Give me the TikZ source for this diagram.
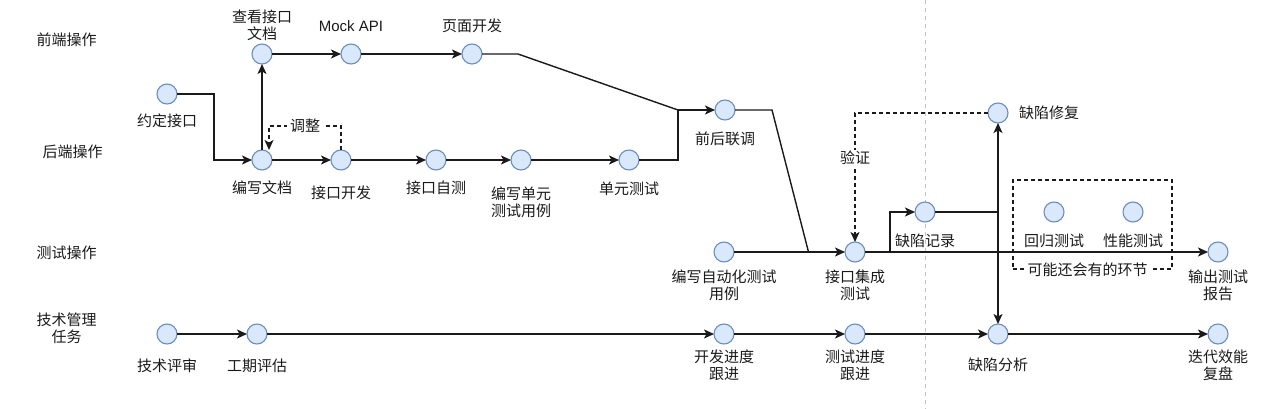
\documentclass[tikz,border=0pt]{standalone}
\usepackage{fontspec}
\setmainfont{Noto Sans CJK SC}
\newfontfamily\latinfont{Liberation Sans}
\usepackage{xcolor}
\usetikzlibrary{positioning}
\usetikzlibrary{arrows.meta}
\definecolor{evtfill}{HTML}{DAE8FC}
\definecolor{evtline}{HTML}{6C8EBF}
\definecolor{inkc}{HTML}{1A1A1A}
\definecolor{divc}{HTML}{C4C4C4}
\tikzstyle{evt}=[circle, minimum size=20pt, inner sep=0pt, outer sep=0pt, fill=evtfill, draw=evtline, line width=1.1pt]
\tikzstyle{txt}=[inner sep=0pt, text=inkc]
\tikzstyle{note}=[fill=white, inner xsep=3pt, inner ysep=1pt]
\tikzstyle{wire}=[draw=inkc, line width=1.4pt]
\tikzstyle{link}=[-{Stealth[length=10pt,width=9pt,inset=2.5pt]}, draw=inkc, line width=1.4pt]
\tikzstyle{fb}=[-{Stealth[length=10pt,width=9pt,inset=2.5pt]}, draw=inkc, line width=1.2pt, dash pattern=on 4pt off 3pt]
\tikzstyle{optbox}=[draw=inkc, line width=1.2pt, dash pattern=on 4pt off 3pt]
\tikzstyle{divider}=[draw=divc, line width=1pt, dash pattern=on 4pt off 4pt]

\begin{document}
\begin{tikzpicture}[x=1pt, y=-1pt, every text node part/.style={align=center, font=\fontsize{15}{17}\selectfont}]
    \useasboundingbox (0,0) rectangle (1280,409);
    \draw[divider] (925,0) -- (925,409);

    % lanes
    \node[txt] (lane-fe) at (66.5,40)  {前端操作};
    \node[txt] (lane-be) at (72.5,152) {后端操作};
    \node[txt] (lane-qa) at (66.5,252.5) {测试操作};
    \node[txt] (lane-pm) at (66.5,328) {技术管理\\任务};

    % possible extra steps
    \node[optbox, minimum width=159pt, minimum height=89pt] (opt) at (1092.5,224.5) {};
    \node[txt, note] (opt-t) at ([xshift=-5pt]opt.south) {可能还会有的环节};

    % events
    \node[evt] (yd)    at (167,94)  {};
    \node[evt] (ckwd)  at (262,54)  {};
    \node[evt] (mock)  at (351,54)  {};
    \node[evt] (ymkf)  at (472,54)  {};
    \node[evt] (bxwd)  at (262,160) {};
    \node[evt] (jkkf)  at (341,160) {};
    \node[evt] (jkzc)  at (436,160) {};
    \node[evt] (bxdy)  at (521,160) {};
    \node[evt] (dycs)  at (629,160) {};
    \node[evt] (qhlt)  at (725,110) {};
    \node[evt] (qxxf)  at (998,113) {};
    \node[evt] (qxjl)  at (925,212) {};
    \node[evt] (hgcs)  at (1054,212) {};
    \node[evt] (xncs)  at (1133,212) {};
    \node[evt] (bxzdh) at (724,252) {};
    \node[evt] (jkjc)  at (855,252) {};
    \node[evt] (sccs)  at (1218,252) {};
    \node[evt] (jsps)  at (167,334) {};
    \node[evt] (gqpg)  at (257,334) {};
    \node[evt] (kfjd)  at (724,334) {};
    \node[evt] (csjd)  at (855,334) {};
    \node[evt] (qxfx)  at (998,334) {};
    \node[evt] (ddxn)  at (1218,334) {};

    % labels
    \node[txt, below=27pt of yd.center, anchor=center]      (yd-t)    {约定接口};
    \node[txt, above=28.5pt of ckwd.center, anchor=center]  (ckwd-t)  {查看接口\\文档};
    \node[txt, above=28.3pt of mock.center, anchor=center]  (mock-t)  {\latinfont Mock API};
    \node[txt, above=28pt of ymkf.center, anchor=center]    (ymkf-t)  {页面开发};
    \node[txt, below=28pt of bxwd.center, anchor=center]    (bxwd-t)  {编写文档};
    \node[txt, below=32.7pt of jkkf.center, anchor=center]  (jkkf-t)  {接口开发};
    \node[txt, below=28pt of jkzc.center, anchor=center]    (jkzc-t)  {接口自测};
    \node[txt, below=42pt of bxdy.center, anchor=center]    (bxdy-t)  {编写单元\\测试用例};
    \node[txt, below=29.3pt of dycs.center, anchor=center]  (dycs-t)  {单元测试};
    \node[txt, below=29pt of qhlt.center, anchor=center]    (qhlt-t)  {前后联调};
    \node[txt, right=51pt of qxxf.center, anchor=center]    (qxxf-t)  {缺陷修复};
    \node[txt, below=28.5pt of qxjl.center, anchor=center]  (qxjl-t)  {缺陷记录};
    \node[txt, below=29pt of hgcs.center, anchor=center]    (hgcs-t)  {回归测试};
    \node[txt, below=29pt of xncs.center, anchor=center]    (xncs-t)  {性能测试};
    \node[txt, below=33pt of bxzdh.center, anchor=center]   (bxzdh-t) {编写自动化测试\\用例};
    \node[txt, below=33pt of jkjc.center, anchor=center]    (jkjc-t)  {接口集成\\测试};
    \node[txt, below=33pt of sccs.center, anchor=center]    (sccs-t)  {输出测试\\报告};
    \node[txt, below=31.7pt of jsps.center, anchor=center]  (jsps-t)  {技术评审};
    \node[txt, below=31.7pt of gqpg.center, anchor=center]  (gqpg-t)  {工期评估};
    \node[txt, below=31.4pt of kfjd.center, anchor=center]  (kfjd-t)  {开发进度\\跟进};
    \node[txt, below=31.4pt of csjd.center, anchor=center]  (csjd-t)  {测试进度\\跟进};
    \node[txt, below=31pt of qxfx.center, anchor=center]    (qxfx-t)  {缺陷分析};
    \node[txt, below=31.4pt of ddxn.center, anchor=center]  (ddxn-t)  {迭代效能\\复盘};

    \coordinate (fj) at (678,110);
    \coordinate (tj) at (808.5,252);
    \coordinate (fk) at (890,252);

    % front / back
    \draw[link] (yd) -- ++(47,0) |- (bxwd);
    \draw[link] (bxwd) -- (ckwd);
    \draw[link] (ckwd) -- (mock);
    \draw[link] (mock) -- (ymkf);
    \draw[wire] (ymkf) -- ++(46,0) -- (fj);
    \draw[link] (bxwd) -- (jkkf);
    \draw[link] (jkkf) -- (jkzc);
    \draw[link] (jkzc) -- (bxdy);
    \draw[link] (bxdy) -- (dycs);
    \draw[wire] (dycs) -| (fj);
    \draw[link] (fj) -- (qhlt);
    \draw[fb] (jkkf) -- ++(0,-34) -| node[pos=0.25, txt, note] (tz) {调整} ([xshift=7pt]bxwd.north);

    % testing
    \draw[wire] (qhlt) -- ++(47,0) -- (tj);
    \draw[link] (bxzdh) -- (jkjc);
    \draw[link] (jkjc) -- (sccs);
    \draw[link] (fk) |- (qxjl);
    \draw[link] (qxjl) -| (qxxf);
    \draw[link] (qxjl) -| (qxfx);
    \draw[fb] (qxxf) -| node[pos=0.674, txt, note] (yz) {验证} (jkjc);

    % management
    \draw[link] (jsps) -- (gqpg);
    \draw[link] (gqpg) -- (kfjd);
    \draw[link] (kfjd) -- (csjd);
    \draw[link] (csjd) -- (qxfx);
    \draw[link] (qxfx) -- (ddxn);
  \end{tikzpicture}
\end{document}
